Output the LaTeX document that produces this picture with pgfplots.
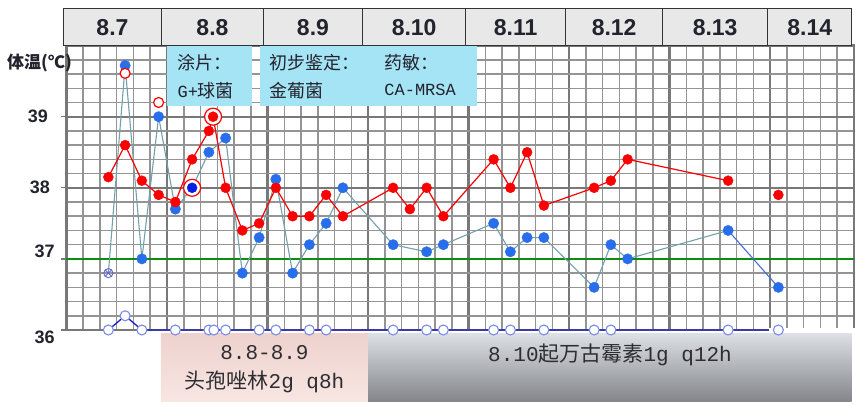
\documentclass[border=0pt]{standalone}
\usepackage{pgfplots}
\pgfplotsset{compat=1.18}
\usepackage{pgfplotstable}
\usepackage{fontspec}
\setmainfont{Liberation Sans}
\newfontfamily\cjk{Noto Sans CJK SC}
\newfontfamily\mono{Liberation Mono}
\definecolor{gridminor}{RGB}{148,148,148}
\definecolor{gridmajor}{RGB}{120,120,120}
\definecolor{tred}{RGB}{250,0,0}
\definecolor{tblue}{RGB}{40,110,235}
\definecolor{tdark}{RGB}{10,30,225}
\definecolor{tconn}{RGB}{115,160,170}
\definecolor{tconnb}{RGB}{70,110,210}
\definecolor{hdr}{RGB}{232,232,232}
\definecolor{hdrline}{RGB}{50,50,55}
\definecolor{cyanbox}{RGB}{165,228,245}
\definecolor{pinktop}{RGB}{238,210,206}
\definecolor{pinkbot}{RGB}{248,230,226}
\definecolor{graytop}{RGB}{220,223,228}
\definecolor{graybot}{RGB}{132,134,140}
\definecolor{txt}{RGB}{35,35,45}
\definecolor{btxt}{RGB}{45,45,50}
\definecolor{pgreen}{RGB}{15,140,15}
\definecolor{botline}{RGB}{25,25,195}
\definecolor{botcirc}{RGB}{120,140,230}
\definecolor{oth}{RGB}{100,100,210}

% red series (line, in order)
\pgfplotstableread{
x y
2.5 38.15
3.5 38.6
4.5 38.1
5.5 37.9
6.5 37.8
7.5 38.4
8.5 38.8
8.75 39.0
9.5 38.0
10.5 37.4
11.5 37.5
12.5 38.0
13.5 37.6
14.5 37.6
15.5 37.9
16.5 37.6
19.5 38.0
20.5 37.7
21.5 38.0
22.5 37.6
25.5 38.4
26.5 38.0
27.5 38.5
28.5 37.75
31.5 38.0
32.5 38.1
33.5 38.4
39.5 38.1
}\redline
% red dots
\pgfplotstableread{
x y
2.5 38.15
3.5 38.6
4.5 38.1
5.5 37.9
6.5 37.8
7.5 38.4
8.5 38.8
9.5 38.0
10.5 37.4
11.5 37.5
12.5 38.0
13.5 37.6
14.5 37.6
15.5 37.9
16.5 37.6
19.5 38.0
20.5 37.7
21.5 38.0
22.5 37.6
25.5 38.4
26.5 38.0
27.5 38.5
28.5 37.75
31.5 38.0
32.5 38.1
33.5 38.4
39.5 38.1
42.5 37.9
}\reddots
% blue series (line, in order)
\pgfplotstableread{
x y
2.5 36.8
3.5 39.72
4.5 37.0
5.5 39.0
6.5 37.7
7.5 38.0
8.5 38.5
9.5 38.7
10.5 36.8
11.5 37.3
12.5 38.12
13.5 36.8
14.5 37.2
15.5 37.5
16.5 38.0
19.5 37.2
21.5 37.1
22.5 37.2
25.5 37.5
26.5 37.1
27.5 37.3
28.5 37.3
31.5 36.6
32.5 37.2
33.5 37.0
39.5 37.4
}\blueline
\pgfplotstableread{
x y
39.5 37.4
42.5 36.6
}\bluelast
\pgfplotstableread{
x y
3.5 39.72
4.5 37.0
5.5 39.0
6.5 37.7
8.5 38.5
9.5 38.7
10.5 36.8
11.5 37.3
12.5 38.12
13.5 36.8
14.5 37.2
15.5 37.5
16.5 38.0
19.5 37.2
21.5 37.1
22.5 37.2
25.5 37.5
26.5 37.1
27.5 37.3
28.5 37.3
31.5 36.6
32.5 37.2
33.5 37.0
39.5 37.4
42.5 36.6
}\bluedots
% bottom series
\pgfplotstableread{
x y
2.5 36.0
3.5 36.2
4.5 36.0
6.5 36.0
8.5 36.0
8.8 36.0
9.5 36.0
11.5 36.0
12.5 36.0
14.5 36.0
15.5 36.0
19.5 36.0
21.5 36.0
22.5 36.0
25.5 36.0
26.5 36.0
28.5 36.0
31.5 36.0
32.5 36.0
39.5 36.0
42.5 36.0
}\bottom

\begin{document}
\begin{tikzpicture}
\useasboundingbox (-66.5bp,-75bp) rectangle (796.5bp,330bp);
\begin{axis}[
  at={(0,0)}, anchor=south west,
  scale only axis, width=787.25bp, height=284.4bp,
  xmin=0, xmax=47, ymin=36, ymax=40,
  clip=false,
  xtick={0,6,...,42}, minor xtick={0,1,...,47},
  ytick={36,37,38,39}, minor ytick={36,36.2,...,40},
  xticklabels={}, yticklabels={},
  grid=both,
  major grid style={draw=gridmajor, line width=2.3bp},
  minor grid style={draw=gridminor, line width=1.5bp},
  axis line style={draw=gridmajor, line width=2.4bp},
  tick align=outside, major tick length=5bp, minor tick length=0pt,
  xtick style={draw=none},
  ytick pos=left,
  ytick style={draw=gridmajor, line width=1.2bp},
]
% normal line 37
\addplot[pgreen, line width=2.4bp] coordinates {(0,37) (47,37)};
% connector lines
\addplot[tconn, line width=1.1bp] table {\blueline};
\addplot[tconnb, line width=1.1bp] table {\bluelast};
\addplot[tred, line width=1.2bp] table {\redline};
\addplot[botline, line width=1.3bp] table {\bottom};
% blue dots
\addplot[only marks, mark=*, mark size=5.2bp, mark options={fill=tblue, draw=tblue}] table {\bluedots};
% other-measurement hollow
\addplot[only marks, mark=otimes, mark size=4.6bp, mark options={draw=oth, fill=white, line width=0.9bp}] coordinates {(2.5,36.8)};
% physical cooling hollow red
\addplot[only marks, mark=*, mark size=5bp, mark options={fill=white, draw=tred, line width=1.2bp}] coordinates {(3.5,39.61) (5.5,39.2)};
% red dots
\addplot[only marks, mark=*, mark size=5bp, mark options={fill=tred, draw=tred}] table {\reddots};
% ringed points
\addplot[only marks, mark=*, mark size=8.5bp, mark options={fill=white, draw=tred, line width=1.2bp}] coordinates {(7.5,38.0) (8.75,39.0)};
\addplot[only marks, mark=*, mark size=5bp, mark options={fill=tdark, draw=tdark}] coordinates {(7.5,38.0)};
\addplot[only marks, mark=*, mark size=5bp, mark options={fill=tred, draw=tred}] coordinates {(8.75,39.0)};
% bottom circles
\addplot[only marks, mark=*, mark size=5bp, mark options={fill=white, draw=botcirc, line width=1.1bp}] table {\bottom};
\fill[white] (axis cs:41.95,35.944) rectangle (axis cs:47.1,36.024);

% y tick labels
\tikzset{ylab/.style={font=\bfseries\fontsize{18bp}{20bp}\selectfont, text=txt, inner sep=0pt, anchor=east}}
\node[ylab] at (axis cs:-1.10,39) {39};
\node[ylab] at (axis cs:-0.985,38) {38};
\node[ylab] at (axis cs:-0.69,37.105) {37};
\node[ylab] at (axis cs:-0.69,35.90) {36};

% header
\tikzset{hbox/.style={draw=hdrline, fill=hdr, line width=1.3bp}}
\draw[hbox] (axis cs:-0.19,40) rectangle (axis cs:5.68,40.52);
\draw[hbox] (axis cs:5.68,40) rectangle (axis cs:11.75,40.52);
\draw[hbox] (axis cs:11.75,40) rectangle (axis cs:17.68,40.52);
\draw[hbox] (axis cs:17.68,40) rectangle (axis cs:23.83,40.52);
\draw[hbox] (axis cs:23.83,40) rectangle (axis cs:29.8,40.52);
\draw[hbox] (axis cs:29.8,40) rectangle (axis cs:35.59,40.52);
\draw[hbox] (axis cs:35.59,40) rectangle (axis cs:41.86,40.52);
\draw[hbox] (axis cs:41.86,40) rectangle (axis cs:46.88,40.52);
\tikzset{hlab/.style={font=\bfseries\fontsize{23bp}{26bp}\selectfont, text=txt, inner sep=0pt}}
\node[hlab] at (axis cs:2.745,40.26) {8.7};
\node[hlab] at (axis cs:8.715,40.26) {8.8};
\node[hlab] at (axis cs:14.715,40.26) {8.9};
\node[hlab] at (axis cs:20.755,40.26) {8.10};
\node[hlab] at (axis cs:26.815,40.26) {8.11};
\node[hlab] at (axis cs:32.695,40.26) {8.12};
\node[hlab] at (axis cs:38.725,40.26) {8.13};
\node[hlab] at (axis cs:44.37,40.26) {8.14};

% y title
\node[font=\cjk\bfseries\fontsize{17bp}{19bp}\selectfont, text=txt, inner sep=0pt] at (axis cs:-1.61,39.75) {体温(℃)};

% cyan annotation boxes
\fill[cyanbox] (axis cs:5.98,39.15) rectangle (axis cs:11.06,39.995);
\fill[cyanbox] (axis cs:11.55,39.15) rectangle (axis cs:24.49,39.995);
\tikzset{alab/.style={font=\cjk\fontsize{18bp}{20bp}\selectfont, text=txt, inner sep=0pt, anchor=west}}
\node[alab] at (axis cs:6.62,39.765) {涂片：};
\node[alab] at (axis cs:6.62,39.37) {{\mono\fontsize{17bp}{20bp}\selectfont G+}球菌};
\node[alab] at (axis cs:12.1,39.765) {初步鉴定：};
\node[alab] at (axis cs:12.1,39.37) {金葡菌};
\node[alab] at (axis cs:18.97,39.765) {药敏：};
\node[alab] at (axis cs:18.97,39.37) {\mono\fontsize{17bp}{20bp}\selectfont CA-MRSA};

% drug boxes
\fill[top color=pinktop, bottom color=pinkbot] (axis cs:5.64,35.0) rectangle (axis cs:18.0,35.944);
\fill[top color=graytop, bottom color=graybot] (axis cs:18.0,35.0) rectangle (axis cs:46.88,35.944);
\tikzset{blab/.style={font=\cjk\fontsize{21bp}{23bp}\selectfont, text=btxt, inner sep=0pt}}
\node[blab] at (axis cs:11.82,35.676) {\mono\fontsize{21bp}{23bp}\selectfont 8.8-8.9};
\node[blab] at (axis cs:11.82,35.27) {头孢唑林{\mono\fontsize{21bp}{23bp}\selectfont 2g q8h}};
\node[blab] at (axis cs:32.45,35.648) {{\mono\fontsize{21bp}{23bp}\selectfont 8.10}起万古霉素{\mono\fontsize{21bp}{23bp}\selectfont 1g q12h}};
\end{axis}
\end{tikzpicture}
\end{document}
